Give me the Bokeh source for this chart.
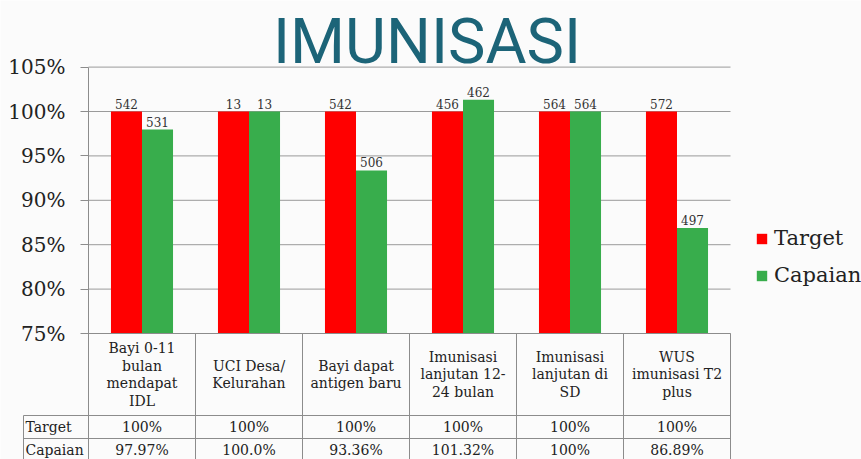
from bokeh.plotting import figure
from bokeh.models import (Range1d, LinearAxis, FixedTicker, PrintfTickFormatter,
                          Legend, LegendItem, ColumnDataSource)
from bokeh.core.properties import value
from bokeh.embed import file_html
from bokeh.resources import INLINE

# ---------------- data ----------------
categories = ["Bayi 0-11\nbulan\nmendapat\nIDL", "UCI Desa/\nKelurahan",
              "Bayi dapat\nantigen baru", "Imunisasi\nlanjutan 12-\n24 bulan",
              "Imunisasi\nlanjutan di\nSD", "WUS\nimunisasi T2\nplus"]
target_pct = [100, 100, 100, 100, 100, 100]
capaian_pct = [97.97, 100.0, 93.36, 101.32, 100, 86.89]
target_n = ["542", "13", "542", "456", "564", "572"]
capaian_n = ["531", "13", "506", "462", "564", "497"]
target_txt = ["100%", "100%", "100%", "100%", "100%", "100%"]
capaian_txt = ["97.97%", "100.0%", "93.36%", "101.32%", "100%", "86.89%"]
y_ticks = [75, 80, 85, 90, 95, 100, 105]
y_tick_labels = ["75%", "80%", "85%", "90%", "95%", "100%", "105%"]
series_names = ["Target", "Capaian"]
title_text = "IMUNISASI"

# ---------------- layout helpers (pixel -> data) ----------------
W, H = 861, 459
X0_PX, PX_PER_CAT = 88, 107.0
Y75_PX, PX_PER_PCT = 333, 8.88
BASE = 75


def xd(px):
    return (px - X0_PX) / PX_PER_CAT


def yd(px):
    return BASE - (px - Y75_PX) / PX_PER_PCT


n = len(categories)
SERIF = value("DejaVu Serif")
TXT = "#222222"
LINE = "#8c8c8c"
RED = "#ff0000"
GREEN = "#38ad4c"

p = figure(width=W, height=H, output_backend="svg", toolbar_location=None,
           x_axis_type=None, y_axis_type=None,
           x_range=Range1d(xd(0), xd(W)), y_range=Range1d(yd(H), yd(0)),
           min_border_left=0, min_border_right=0, min_border_top=0, min_border_bottom=0,
           background_fill_color="#fbfbfb", border_fill_color="#fbfbfb",
           outline_line_color=None)
p.xgrid.visible = False
p.ygrid.visible = False

# gridlines (category span only)
p.segment(x0=[0] * len(y_ticks), x1=[n] * len(y_ticks), y0=y_ticks, y1=y_ticks,
          line_color="#9a9a9a", line_width=1)

# bars
xs = [i + 0.5 for i in range(n)]
dodge = 0.145
src = ColumnDataSource(dict(
    xr=[x - dodge for x in xs], xg=[x + dodge for x in xs],
    t=target_pct, c=capaian_pct, tn=target_n, cn=capaian_n))
r_red = p.vbar(x="xr", top="t", bottom=BASE, width=0.29, source=src,
               fill_color=RED, line_color=None)
r_green = p.vbar(x="xg", top="c", bottom=BASE, width=0.29, source=src,
                 fill_color=GREEN, line_color=None)

# value labels
p.text(x="xr", y="t", text="tn", source=src, text_align="center",
       text_baseline="bottom", y_offset=-3, text_font=SERIF,
       text_font_size="12px", text_color="#333333")
p.text(x="xg", y="c", text="cn", source=src, text_align="center",
       text_baseline="bottom", y_offset=-3, text_font=SERIF,
       text_font_size="12px", text_color="#333333")

# y axis drawn at the category-area left edge
yaxis = LinearAxis(fixed_location=0, bounds=(yd(H), 105),
                   ticker=FixedTicker(ticks=y_ticks),
                   formatter=PrintfTickFormatter(format="%d%%"),
                   major_label_overrides={t: l for t, l in zip(y_ticks, y_tick_labels)},
                   axis_line_color=LINE, major_tick_line_color=LINE,
                   major_tick_in=0, major_tick_out=8, minor_tick_line_color=None,
                   major_label_standoff=15,
                   major_label_text_font="DejaVu Serif",
                   major_label_text_font_size="20px",
                   major_label_text_color=TXT)
p.add_layout(yaxis, "left")

# data table below the chart
row1_y, row2_y = yd(415), yd(438)
bottom_y = yd(H)
left_x = xd(23)
p.segment(x0=[0, left_x, left_x], x1=[n, n, n], y0=[BASE, row1_y, row2_y],
          y1=[BASE, row1_y, row2_y], line_color=LINE, line_width=1)
p.segment(x0=list(range(1, n + 1)) + [left_x], x1=list(range(1, n + 1)) + [left_x],
          y0=[BASE] * n + [row1_y], y1=[bottom_y] * (n + 1),
          line_color=LINE, line_width=1)

p.text(x=xs, y=[yd(374)] * n, text=categories, text_align="center",
       text_baseline="middle", text_font=SERIF, text_font_size="14px",
       text_color=TXT, text_line_height=1.1)
p.text(x=[xd(25)] * 2, y=[yd(426), yd(449)], text=series_names,
       text_align="left", text_baseline="middle", text_font=SERIF,
       text_font_size="14px", text_color=TXT)
p.text(x=xs, y=[yd(426)] * n, text=target_txt, text_align="center",
       text_baseline="middle", text_font=SERIF, text_font_size="14px",
       text_color=TXT)
p.text(x=xs, y=[yd(449)] * n, text=capaian_txt, text_align="center",
       text_baseline="middle", text_font=SERIF, text_font_size="14px",
       text_color=TXT)

# title
p.text(x=[xd(426.5)], y=[yd(41)], text=[title_text], text_align="center",
       text_baseline="alphabetic", text_font=value("Roboto"),
       text_font_size="63px", text_color="#1c6478")

# legend
legend = Legend(items=[LegendItem(label=series_names[0], renderers=[r_red]),
                       LegendItem(label=series_names[1], renderers=[r_green])],
                location=(755, 172), orientation="vertical",
                glyph_width=13, glyph_height=13, label_standoff=6,
                spacing=13, padding=0, margin=0,
                label_text_font="DejaVu Serif", label_text_font_size="21px",
                label_text_color=TXT, border_line_color=None,
                background_fill_alpha=0)
p.add_layout(legend)

open("out.html", "w").write(file_html(p, INLINE))
